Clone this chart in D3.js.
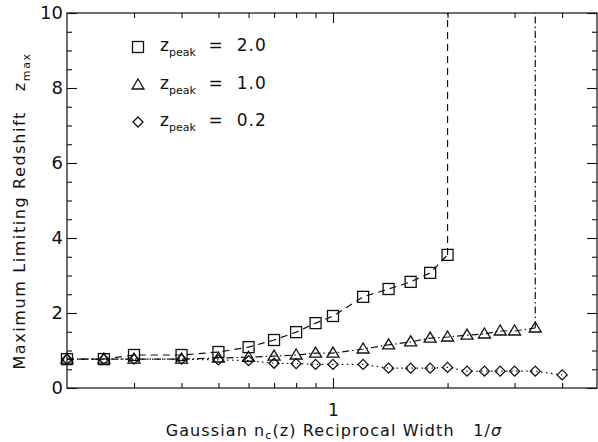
<!DOCTYPE html>
<html>
<head>
<meta charset="utf-8">
<script src="https://cdn.jsdelivr.net/npm/d3@7"></script>
<style>
  body { margin: 0; background: #fff; }
  svg text { font-family: "DejaVu Sans", sans-serif; fill: #111; white-space: pre; }
</style>
</head>
<body>
<div id="chart"></div>
<script>
// reciprocal width 1/sigma sampled for each run
const xSquare = [0.2, 0.25, 0.3, 0.4, 0.5, 0.6, 0.7, 0.8, 0.9, 1.0, 1.2, 1.4, 1.6, 1.8, 2.0];
const ySquare = [0.77, 0.77, 0.88, 0.88, 0.96, 1.09, 1.28, 1.49, 1.73, 1.92, 2.43, 2.64, 2.83, 3.07, 3.55];

const xTriangle = [0.2, 0.25, 0.3, 0.4, 0.5, 0.6, 0.7, 0.8, 0.9, 1.0, 1.2, 1.4, 1.6, 1.8, 2.0, 2.25, 2.5, 2.75, 3.0, 3.4];
const yTriangle = [0.77, 0.77, 0.77, 0.77, 0.8, 0.82, 0.85, 0.88, 0.93, 0.93, 1.04, 1.15, 1.23, 1.33, 1.36, 1.41, 1.44, 1.52, 1.52, 1.6];

const xDiamond = [0.2, 0.25, 0.3, 0.4, 0.5, 0.6, 0.7, 0.8, 0.9, 1.0, 1.2, 1.4, 1.6, 1.8, 2.0, 2.25, 2.5, 2.75, 3.0, 3.4, 4.0];
const yDiamond = [0.77, 0.77, 0.77, 0.77, 0.75, 0.73, 0.66, 0.65, 0.63, 0.63, 0.63, 0.53, 0.53, 0.53, 0.55, 0.45, 0.45, 0.45, 0.45, 0.45, 0.35];

const legendLabels = ["2.0", "1.0", "0.2"];
const xMinorTicks = [0.3, 0.4, 0.5, 0.6, 0.7, 0.8, 0.9, 2, 3, 4];
const xMajorTicks = [1];
const yMajorTicks = [0, 2, 4, 6, 8, 10];
const yMinorTicks = d3.range(0, 10.01, 0.5).filter(v => v % 2 !== 0);

const W = 598, H = 442;
const plotLeft = 67, plotRight = 599, plotTop = 13, plotBottom = 388;

const svg = d3.select("#chart").append("svg")
    .attr("width", W).attr("height", H);

const x = d3.scaleLog().domain([0.2, 5]).range([plotLeft, plotRight]);
const y = d3.scaleLinear().domain([0, 10]).range([plotBottom, plotTop]);

const axisStyle = function(g){
    g.select(".domain").remove();
    g.selectAll("line").attr("stroke", "#111").attr("stroke-width", 1.1);
}

// bottom + top ticks (inward)
svg.append("g").attr("transform", `translate(0,${plotBottom})`)
    .call(d3.axisBottom(x).tickValues(xMinorTicks).tickSize(-5).tickFormat(""))
    .call(axisStyle);
svg.append("g").attr("transform", `translate(0,${plotBottom})`)
    .call(d3.axisBottom(x).tickValues(xMajorTicks).tickSize(-10).tickPadding(16).tickFormat(d3.format("d")))
    .call(axisStyle)
    .selectAll("text").attr("font-size", 17).attr("fill", "#111");
svg.append("g").attr("transform", `translate(0,${plotTop})`)
    .call(d3.axisTop(x).tickValues(xMinorTicks).tickSize(-5).tickFormat(""))
    .call(axisStyle);
svg.append("g").attr("transform", `translate(0,${plotTop})`)
    .call(d3.axisTop(x).tickValues(xMajorTicks).tickSize(-10).tickFormat(""))
    .call(axisStyle);

// left + right ticks (inward)
svg.append("g").attr("transform", `translate(${plotLeft},0)`)
    .call(d3.axisLeft(y).tickValues(yMinorTicks).tickSize(-5).tickFormat(""))
    .call(axisStyle);
svg.append("g").attr("transform", `translate(${plotLeft},0)`)
    .call(d3.axisLeft(y).tickValues(yMajorTicks).tickSize(-10).tickPadding(4).tickFormat(d3.format("d")))
    .call(axisStyle)
    .selectAll("text").attr("font-size", 18).attr("fill", "#111");
svg.append("g").attr("transform", `translate(${plotRight - 2},0)`)
    .call(d3.axisRight(y).tickValues(yMinorTicks).tickSize(-5).tickFormat(""))
    .call(axisStyle);
svg.append("g").attr("transform", `translate(${plotRight - 2},0)`)
    .call(d3.axisRight(y).tickValues(yMajorTicks).tickSize(-10).tickFormat(""))
    .call(axisStyle);

// frame
svg.append("rect")
    .attr("x", plotLeft).attr("y", plotTop)
    .attr("width", plotRight - 2 - plotLeft).attr("height", plotBottom - plotTop)
    .attr("fill", "none").attr("stroke", "#111").attr("stroke-width", 1.2);

const line = d3.line().x(d => x(d[0])).y(d => y(d[1]));

const series = [
    {xs: xSquare, ys: ySquare, dash: "7,5", symbol: "square", diverge: true},
    {xs: xTriangle, ys: yTriangle, dash: "7,3,1.5,3", symbol: "triangle", diverge: true},
    {xs: xDiamond, ys: yDiamond, dash: "1.5,3.5", symbol: "diamond", diverge: false}
];

const drawSymbol = function(g, kind, cx, cy){
    if(kind === "square"){
        g.append("rect").attr("x", cx - 5.5).attr("y", cy - 5.5)
            .attr("width", 11).attr("height", 11)
            .attr("fill", "none").attr("stroke", "#111").attr("stroke-width", 1.3);
    } else if(kind === "triangle"){
        g.append("path").attr("d", `M${cx},${cy - 6}L${cx + 6},${cy + 4}L${cx - 6},${cy + 4}Z`)
            .attr("fill", "none").attr("stroke", "#111").attr("stroke-width", 1.3);
    } else {
        g.append("path").attr("d", `M${cx},${cy - 5}L${cx + 5},${cy}L${cx},${cy + 5}L${cx - 5},${cy}Z`)
            .attr("fill", "none").attr("stroke", "#111").attr("stroke-width", 1.3);
    }
}

series.forEach(s => {
    const pts = s.xs.map((v, i) => [v, s.ys[i]]);
    svg.append("path").datum(pts)
        .attr("d", line)
        .attr("fill", "none").attr("stroke", "#111")
        .attr("stroke-width", 1.2).attr("stroke-dasharray", s.dash);
    if(s.diverge){
        const last = pts[pts.length - 1];
        svg.append("path").datum([last, [last[0], y.domain()[1]]])
            .attr("d", line)
            .attr("fill", "none").attr("stroke", "#111")
            .attr("stroke-width", 1.2).attr("stroke-dasharray", s.dash);
    }
    const g = svg.append("g");
    pts.forEach(p => drawSymbol(g, s.symbol, x(p[0]), y(p[1])));
});

// legend
const legendY = [47, 85, 122];
series.forEach((s, i) => {
    const g = svg.append("g");
    drawSymbol(g, s.symbol, 138, legendY[i]);
    const t = g.append("text").attr("x", 160).attr("y", legendY[i] + 4).attr("font-size", 17);
    t.append("tspan").text("z");
    t.append("tspan").attr("font-size", 11).attr("dy", 5).text("peak");
    t.append("tspan").attr("dy", -5).attr("letter-spacing", 1).text("  =  " + legendLabels[i]);
});

// axis titles
const xt = svg.append("text").attr("x", 334).attr("y", 436)
    .attr("text-anchor", "middle").attr("font-size", 16).attr("letter-spacing", 1.1);
xt.append("tspan").text("Gaussian n");
xt.append("tspan").attr("font-size", 11).attr("dy", 3).text("c");
xt.append("tspan").attr("dy", -3).text("(z) Reciprocal Width   1/");
xt.append("tspan").attr("font-style", "italic").text("σ");

const yt = svg.append("text")
    .attr("transform", "translate(25,211) rotate(-90)")
    .attr("text-anchor", "middle").attr("font-size", 16).attr("letter-spacing", 1.6);
yt.append("tspan").text("Maximum Limiting Redshift   z");
yt.append("tspan").attr("font-size", 11).attr("dy", 5).text("max");
</script>
</body>
</html>
